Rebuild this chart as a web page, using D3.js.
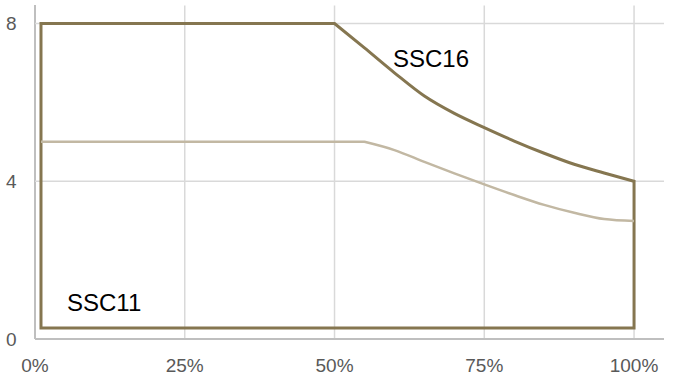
<!doctype html>
<html>
<head>
<meta charset="UTF-8">
<script src="https://d3js.org/d3.v7.min.js"></script>
<style>
  body { margin: 0; background: #fff; }
  text { font-family: "Liberation Sans", Arial, sans-serif; }
</style>
</head>
<body>
<div id="chart"></div>
<script>
// data (x in %, y in units)
var ssc16Pct = [1, 50, 55, 60, 65, 70, 75, 80, 85, 90, 95, 100];
var ssc16Val = [8, 8, 7.38, 6.75, 6.16, 5.72, 5.36, 5.02, 4.71, 4.43, 4.21, 4.0];
var ssc16Floor = 0.28;
var ssc11Pct = [1, 55, 60, 65, 70, 75, 80, 85, 90, 95, 100];
var ssc11Val = [5, 5, 4.79, 4.49, 4.20, 3.92, 3.65, 3.40, 3.20, 3.04, 2.99];
var xTicks = [0, 25, 50, 75, 100];
var yTicks = [0, 4, 8];

var width = 675, height = 377;

var svg = d3.select("#chart").append("svg")
	.attr("width", width)
	.attr("height", height);

var x = d3.scaleLinear().domain([0, 105]).range([35, 664]);
var y = d3.scaleLinear().domain([0, 8]).range([339, 23.5]);

// grid
svg.append("g").selectAll("line")
	.data(xTicks)
	.enter().append("line")
		.attr("x1", d => x(d)).attr("x2", d => x(d))
		.attr("y1", d => d == 0 ? 5 : y(8) - 18).attr("y2", y(0))
		.attr("stroke", d => d == 0 ? "#bfbfbf" : "#d9d9d9")
		.attr("stroke-width", d => d == 0 ? 2 : 1.5);

svg.append("g").selectAll("line")
	.data(yTicks)
	.enter().append("line")
		.attr("x1", x(0)).attr("x2", x(105))
		.attr("y1", d => y(d)).attr("y2", d => y(d))
		.attr("stroke", d => d == 0 ? "#bfbfbf" : "#d9d9d9")
		.attr("stroke-width", d => d == 0 ? 2 : 1.5);

// tick labels
svg.append("g").selectAll("text")
	.data(yTicks)
	.enter().append("text")
		.attr("x", 6)
		.attr("y", d => y(d) + 6.5)
		.attr("fill", "#595959")
		.attr("font-size", 19)
		.text(d => d);

svg.append("g").selectAll("text")
	.data(xTicks)
	.enter().append("text")
		.attr("x", d => x(d))
		.attr("y", 372)
		.attr("text-anchor", "middle")
		.attr("fill", "#595959")
		.attr("font-size", 19)
		.text(d => d + "%");

// flat start drawn straight, the falling part smoothed
var smooth = d3.line().x(d => x(d[0])).y(d => y(d[1])).curve(d3.curveMonotoneX);
function kinked(pct, val) {
	var pts = pct.map((p, i) => [p, val[i]]);
	return "M" + x(pts[0][0]) + "," + y(pts[0][1]) + smooth(pts.slice(1)).replace(/^M/, "L");
}

// SSC16 outline
svg.append("path")
	.attr("d", kinked(ssc16Pct, ssc16Val) + "L" + x(100) + "," + y(ssc16Floor) + "L" + x(1) + "," + y(ssc16Floor) + "Z")
	.attr("fill", "none")
	.attr("stroke", "#857650")
	.attr("stroke-width", 3)
	.attr("stroke-linejoin", "miter");

// SSC11 line
svg.append("path")
	.attr("d", kinked(ssc11Pct, ssc11Val))
	.attr("fill", "none")
	.attr("stroke", "#c2b8a3")
	.attr("stroke-width", 2.5)
	.attr("stroke-linejoin", "round");

// labels
svg.append("text")
	.attr("x", 393).attr("y", 67)
	.attr("font-size", 24)
	.attr("fill", "#000")
	.text("SSC16");

svg.append("text")
	.attr("x", 67).attr("y", 311)
	.attr("font-size", 24)
	.attr("fill", "#000")
	.text("SSC11");
</script>
</body>
</html>
